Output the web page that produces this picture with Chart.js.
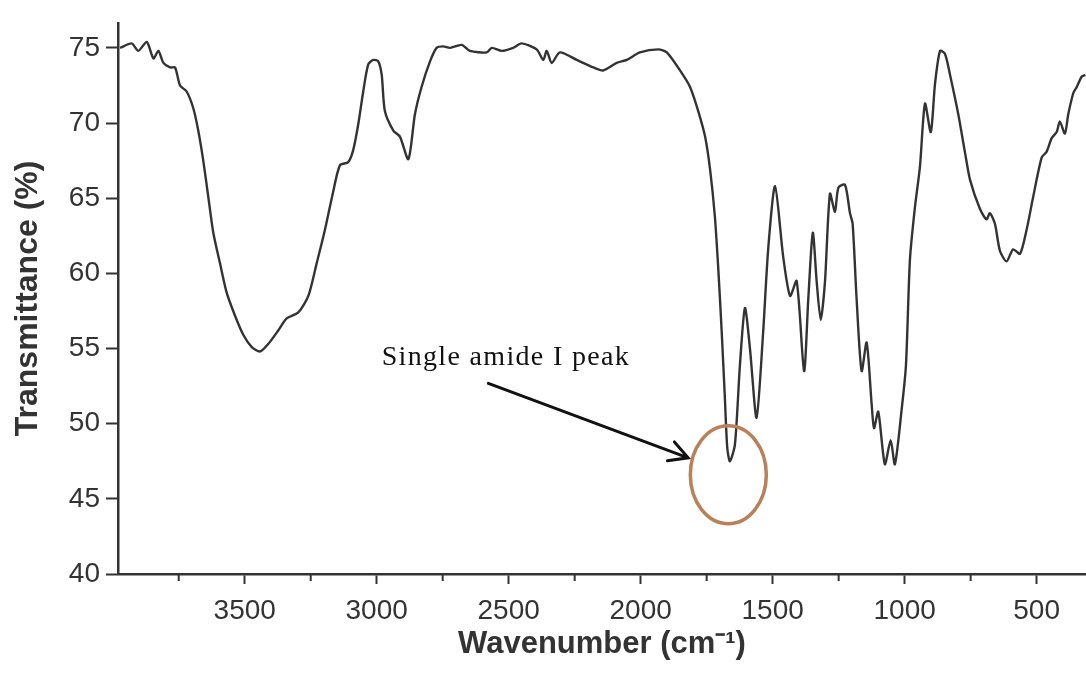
<!DOCTYPE html>
<html>
<head>
<meta charset="utf-8">
<style>
  html, body { margin: 0; padding: 0; background: #fff; }
  #wrap { width: 1086px; height: 677px; }
</style>
<script src="https://cdn.jsdelivr.net/npm/chart.js@4.4.1/dist/chart.umd.min.js"></script>
</head>
<body>
<div id="wrap"><canvas id="ftirChart"></canvas></div>
<script>
// FTIR spectrum, wavenumber (cm-1) vs transmittance (%)
const wavenumbers = [
    3972, 3928, 3903, 3871, 3846, 3827, 3808, 3783, 3764, 3745,
    3720, 3695, 3676, 3657, 3638, 3619, 3594, 3568, 3537, 3505,
    3473, 3442, 3411, 3373, 3341, 3297, 3259, 3227, 3196, 3164,
    3139, 3108, 3089, 3070, 3051, 3032, 3013, 2994, 2981, 2969,
    2937, 2912, 2880, 2855, 2830, 2798, 2773, 2748, 2722, 2678,
    2647, 2583, 2564, 2526, 2483, 2451, 2394, 2369, 2356, 2337,
    2306, 2242, 2179, 2142, 2091, 2053, 2003, 1933, 1901, 1851,
    1813, 1782, 1756, 1737, 1719, 1706, 1693, 1681, 1672, 1662,
    1643, 1624, 1605, 1586, 1561, 1536, 1517, 1491, 1460, 1434,
    1409, 1381, 1365, 1348, 1333, 1318, 1302, 1283, 1264, 1251,
    1226, 1207, 1197, 1182, 1163, 1144, 1125, 1116, 1100, 1075,
    1053, 1037, 1011, 995, 980, 961, 942, 923, 901, 885,
    866, 847, 828, 797, 771, 752, 715, 690, 677, 658,
    639, 614, 589, 563, 538, 513, 481, 462, 443, 424,
    412, 393, 380, 361, 348, 329, 315
];
const transmittance = [
    75.0, 75.3, 74.8, 75.4, 74.3, 74.8, 74.0, 73.7, 73.7, 72.5,
    72.1, 71.0, 69.5, 67.5, 65.1, 62.7, 60.7, 58.7, 57.2, 55.9,
    55.1, 54.8, 55.3, 56.2, 57.0, 57.4, 58.5, 60.7, 62.9, 65.5,
    67.2, 67.4, 68.2, 69.9, 72.1, 73.9, 74.2, 74.1, 73.2, 70.8,
    69.5, 69.1, 67.6, 70.6, 72.4, 74.1, 75.0, 75.1, 75.0, 75.2,
    74.8, 74.7, 75.0, 74.8, 75.0, 75.3, 74.9, 74.2, 74.8, 74.0,
    74.7, 74.2, 73.7, 73.5, 74.0, 74.2, 74.7, 74.9, 74.7, 73.5,
    72.4, 70.8, 69.1, 66.9, 63.8, 60.3, 56.1, 51.7, 48.4, 47.5,
    48.6, 53.9, 57.7, 55.0, 50.4, 56.1, 61.6, 65.8, 61.1, 58.5,
    59.5, 53.5, 58.3, 62.7, 59.4, 56.9, 59.4, 65.3, 64.1, 65.7,
    65.9, 64.0, 63.3, 58.3, 53.5, 55.4, 51.3, 49.7, 50.8, 47.3,
    48.9, 47.3, 51.0, 53.9, 60.9, 64.4, 67.1, 71.3, 69.4, 72.6,
    74.8, 74.6, 73.2, 70.6, 68.0, 66.2, 64.3, 63.6, 64.0, 63.3,
    61.5, 60.8, 61.6, 61.3, 62.9, 65.1, 67.7, 68.1, 69.0, 69.4,
    70.1, 69.3, 70.6, 72.0, 72.4, 73.1, 73.2
];
const xTickValues = [3500, 3000, 2500, 2000, 1500, 1000, 500];
const xMinorTickValues = [3750, 3250, 2750, 2250, 1750, 1250, 750];
const yTickValues = [40, 45, 50, 55, 60, 65, 70, 75];
const noteText = 'Single amide I peak';

// where the callout sits, in axis units
const note = {
    textAt: [2981, 53.9],
    arrowFrom: [2577, 52.68],
    arrowTo: [1820, 47.73],
    ringAt: [1668, 46.6]
};

const axisColor = '#333';
const sansFont = "'Liberation Sans', Arial, Helvetica, sans-serif";

const minorTicks = {
    id: 'minorTicks',
    afterDraw(chart) {
        const { ctx, chartArea, scales } = chart;
        ctx.save();
        ctx.strokeStyle = axisColor;
        ctx.lineWidth = 2;
        xMinorTickValues.forEach(v => {
            const px = scales.x.getPixelForValue(v);
            ctx.beginPath();
            ctx.moveTo(px, chartArea.bottom);
            ctx.lineTo(px, chartArea.bottom + 7);
            ctx.stroke();
        });
        ctx.restore();
    }
};

const peakCallout = {
    id: 'peakCallout',
    afterDatasetsDraw(chart) {
        const { ctx, scales } = chart;
        const px = p => [scales.x.getPixelForValue(p[0]), scales.y.getPixelForValue(p[1])];
        ctx.save();

        // label
        const [tx, ty] = px(note.textAt);
        ctx.font = "28px 'Liberation Serif', 'Times New Roman', serif";
        ctx.fillStyle = '#111';
        ctx.textBaseline = 'alphabetic';
        const natural = ctx.measureText(noteText).width;
        ctx.letterSpacing = Math.max(0, (247 - natural) / (noteText.length - 1)) + 'px';
        ctx.fillText(noteText, tx, ty);
        ctx.letterSpacing = '0px';

        // arrow
        const [ax, ay] = px(note.arrowFrom);
        const [bx, by] = px(note.arrowTo);
        const ang = Math.atan2(by - ay, bx - ax);
        ctx.strokeStyle = '#111';
        ctx.lineWidth = 3;
        ctx.lineCap = 'round';
        ctx.beginPath();
        ctx.moveTo(ax, ay);
        ctx.lineTo(bx, by);
        ctx.moveTo(bx - 21 * Math.cos(ang - 0.5), by - 21 * Math.sin(ang - 0.5));
        ctx.lineTo(bx, by);
        ctx.lineTo(bx - 21 * Math.cos(ang + 0.5), by - 21 * Math.sin(ang + 0.5));
        ctx.stroke();

        // ring round the peak
        const [cx, cy] = px(note.ringAt);
        ctx.strokeStyle = '#b9805c';
        ctx.lineWidth = 3.5;
        ctx.beginPath();
        ctx.ellipse(cx, cy, 38, 49, 0, 0, Math.PI * 2);
        ctx.stroke();

        ctx.restore();
    }
};

new Chart(document.getElementById('ftirChart'), {
    type: 'line',
    data: {
        datasets: [{
            label: 'Transmittance',
            data: wavenumbers.map((w, i) => ({ x: w, y: transmittance[i] })),
            borderColor: '#333',
            borderWidth: 2.4,
            pointRadius: 0,
            tension: 0.25,
            fill: false
        }]
    },
    options: {
        responsive: true,
        maintainAspectRatio: false,
        animation: false,
        devicePixelRatio: 1,
        layout: {
            padding: { top: 18, right: 0, bottom: 0, left: 0 }
        },
        plugins: {
            legend: { display: false },
            tooltip: { enabled: false }
        },
        scales: {
            x: {
                type: 'linear',
                reverse: true,
                min: 313,
                max: 3980,
                afterBuildTicks: axis => {
                    axis.ticks = xTickValues.map(v => ({ value: v }));
                },
                afterFit: axis => {
                    axis.height = 103;
                },
                ticks: {
                    color: axisColor,
                    font: { family: sansFont, size: 28 },
                    padding: 10,
                    maxRotation: 0,
                    autoSkip: false,
                    callback: value => String(value)
                },
                grid: {
                    drawOnChartArea: false,
                    tickLength: 10,
                    tickWidth: 2,
                    tickColor: axisColor
                },
                border: { color: axisColor, width: 2.5 },
                title: {
                    display: true,
                    text: 'Wavenumber (cm\u207B\u00B9)',
                    color: axisColor,
                    font: { family: sansFont, size: 31, weight: 'bold' },
                    padding: { top: 0, bottom: 14 }
                }
            },
            y: {
                min: 40,
                max: 76.67,
                afterBuildTicks: axis => {
                    axis.ticks = yTickValues.map(v => ({ value: v }));
                },
                afterFit: axis => {
                    axis.width = 118;
                },
                ticks: {
                    color: axisColor,
                    font: { family: sansFont, size: 28 },
                    padding: 6,
                    callback: value => String(value)
                },
                grid: {
                    drawOnChartArea: false,
                    tickLength: 12,
                    tickWidth: 2,
                    tickColor: axisColor
                },
                border: { color: axisColor, width: 2.5 },
                title: {
                    display: true,
                    text: 'Transmittance (%)',
                    color: axisColor,
                    font: { family: sansFont, size: 32, weight: 'bold' },
                    padding: { top: 9, bottom: 0 }
                }
            }
        }
    },
    plugins: [minorTicks, peakCallout]
});
</script>
</body>
</html>
